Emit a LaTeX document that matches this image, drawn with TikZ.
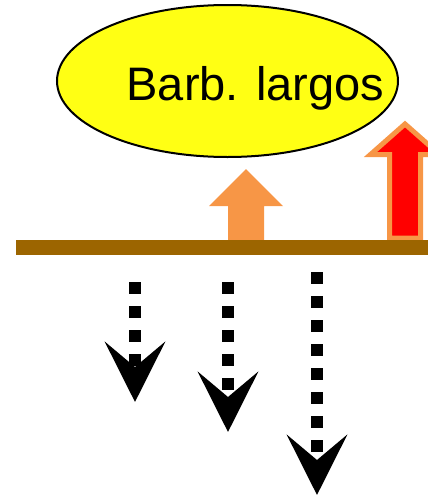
\documentclass[tikz,border=0pt]{standalone}
\usepackage{fontspec}
\setmainfont{Liberation Sans}
\usetikzlibrary{shapes.geometric,arrows.meta}
\definecolor{barbrown}{RGB}{156,101,0}
\definecolor{arrorange}{RGB}{247,150,70}
\definecolor{ellyellow}{RGB}{255,255,20}
\tikzset{
  bubble/.style={ellipse, draw=black, line width=2pt, fill=ellyellow, minimum width=341pt, minimum height=152pt, inner sep=0pt},
  label/.style={font=\fontsize{47}{50}\selectfont, inner sep=0pt, anchor=base},
  flux/.style={line width=12pt, dash pattern=on 12pt off 12pt, -{Stealth[length=60pt, width=60pt, inset=25pt]}},
}
\begin{document}
\begin{tikzpicture}[x=1pt,y=-1pt]
\useasboundingbox (0,0) rectangle (428,496);
% ellipse and its text
\node[bubble] (ell) at (227.5,81) {};
\node[label] (txt) at (255.5,100) {Barb. largos};
% small orange arrow
\fill[arrorange] (228,241) -- (228,206) -- (209,206) -- (246,169) -- (283,206) -- (264,206) -- (264,241) -- cycle;
% red arrow with orange outline
\draw[arrorange, fill=red, line width=5pt, line join=miter] (389.5,238) -- (389.5,154.5) -- (370.5,154.5) -- (405,124) -- (439.5,154.5) -- (420.5,154.5) -- (420.5,238) -- cycle;
% bar
\fill[barbrown] (16,240) rectangle (428,255);
% dotted arrows
\coordinate (a1s) at (135,282); \coordinate (a1e) at (135,402);
\coordinate (a2s) at (228,282); \coordinate (a2e) at (228,432);
\coordinate (a3s) at (317,272); \coordinate (a3e) at (317,495);
\draw[flux] (a1s) -- (a1e);
\draw[flux] (a2s) -- (a2e);
\draw[flux] (a3s) -- (a3e);
\end{tikzpicture}
\end{document}
